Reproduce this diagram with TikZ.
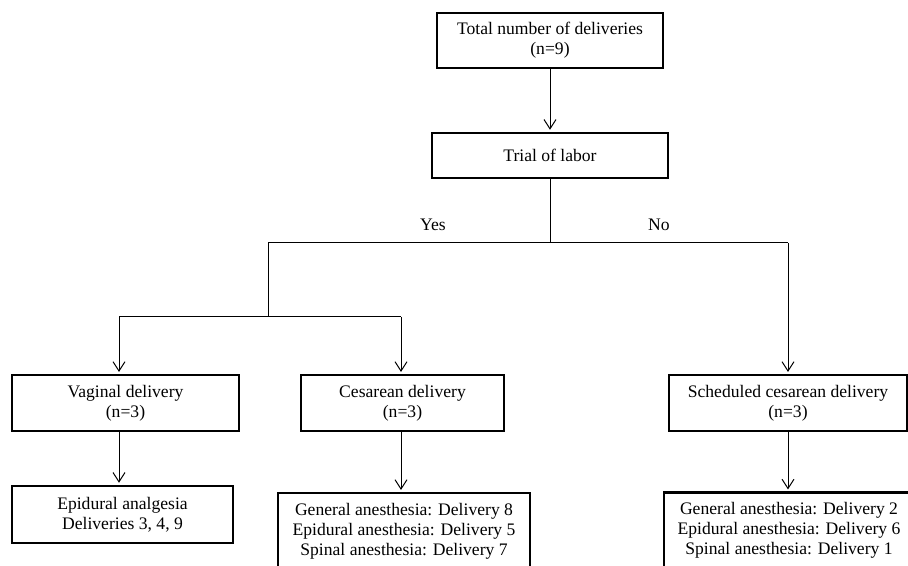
\documentclass[tikz,border=0pt]{standalone}
\usepackage{fontspec}
\setmainfont{Liberation Serif}
\usetikzlibrary{arrows.meta}
\usetikzlibrary{positioning}

\begin{document}
\begin{tikzpicture}
[
	x = 0.75pt, y = -0.75pt,
	box/.style	= {rectangle, draw = black, line width = 1.6pt, align = center, inner sep = 0pt, font = \fontsize{13.2}{15}\selectfont},
	answer/.style	= {font = \fontsize{13.2}{15}\selectfont},
	link/.style	= {line width = 0.75pt},
	arrow/.style	= {link, -{Straight Barb[length = 7pt, width = 9pt]}, shorten > = 1.5pt},
]
	\useasboundingbox (0,0) rectangle (908,566);
	\clip (0,0) rectangle (908,566);

	\node (total) [box, minimum width = 170pt, minimum height = 41pt] at (550,40.5) {Total number of deliveries\\(n=9)};
	\node (trial) [box, minimum width = 177pt, minimum height = 34pt] at (550,155.5) {Trial of labor};
	%
	\node (vaginal) [box, minimum width = 170pt, minimum height = 42pt] at (125.5,403) {Vaginal delivery\\(n=3)};
	\node (cesarean) [box, minimum width = 152pt, minimum height = 42pt] at (402.5,403) {Cesarean delivery\\(n=3)};
	\node (scheduled) [box, minimum width = 178pt, minimum height = 42pt] at (788,403) {Scheduled cesarean delivery\\(n=3)};
	%
	\node (epidural) [box, minimum width = 166pt, minimum height = 43pt] at (122.5,514.5) {Epidural analgesia\\Deliveries 3, 4, 9};
	\node (cesAnes) [box, minimum width = 189pt, minimum height = 57pt] at (404,531) {General anesthesia: Delivery 8\\Epidural anesthesia: Delivery 5\\Spinal anesthesia: Delivery 7};
	\node (schedAnes) [box, minimum width = 187pt, minimum height = 57pt] at (789,530.5) {General anesthesia: Delivery 2\\Epidural anesthesia: Delivery 6\\Spinal anesthesia: Delivery 1};

	\node (yes) [answer] at (433,225) {Yes};
	\node (no) [answer] at (659,225) {No};

	\coordinate (split) at (550,243);
	\coordinate (yesTurn) at (268,243);
	\coordinate (noTurn) at (788,243);
	\coordinate (yesSplit) at (268,317);
	\coordinate (vagTurn) at (119,317);
	\coordinate (cesTurn) at (401,317);

	\draw [arrow] (total) -- (trial);
	\draw [link] (trial) -- (split);
	\draw [link] (yesTurn) -- (noTurn);
	%
	\draw [link] (yesTurn) -- (yesSplit);
	\draw [link] (vagTurn) -- (cesTurn);
	\draw [arrow] (vagTurn) -- (vagTurn |- vaginal.north);
	\draw [arrow] (cesTurn) -- (cesTurn |- cesarean.north);
	\draw [arrow] (noTurn) -- (noTurn |- scheduled.north);
	%
	\draw [arrow] (vagTurn |- vaginal.south) -- (vagTurn |- epidural.north);
	\draw [arrow] (cesTurn |- cesarean.south) -- (cesTurn |- cesAnes.north);
	\draw [arrow] (noTurn |- scheduled.south) -- (noTurn |- schedAnes.north);

\end{tikzpicture}
\end{document}
